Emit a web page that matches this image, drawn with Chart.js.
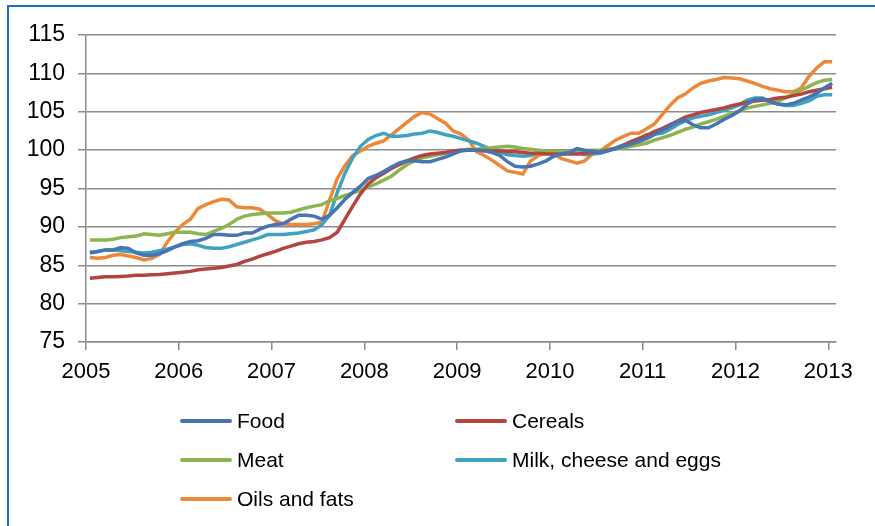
<!DOCTYPE html>
<html>
<head>
<meta charset="utf-8">
<script src="https://cdn.jsdelivr.net/npm/chart.js@4/dist/chart.umd.min.js"></script>
<style>
  html, body { margin: 0; padding: 0; background: #fff; }
  #wrap { position: relative; width: 875px; height: 526px; overflow: hidden; background: #fff; }
  #frame { position: absolute; left: 7px; top: 5px; width: 900px; height: 600px;
           border-top: 2px solid #1C6EBE; border-left: 2px solid #1C6EBE; }
  #c { position: absolute; left: 0; top: 0; }
  #legend { position: absolute; left: 0; top: 0; width: 875px; height: 526px; pointer-events: none;
            font-family: "Liberation Sans", Arial, sans-serif; font-size: 21px; color: #000; }
  .item { position: absolute; height: 24px; display: flex; align-items: center; white-space: nowrap; }
  .swatch { width: 52px; height: 4px; border-radius: 2px; margin-right: 5px; }
</style>
</head>
<body>
<div id="wrap">
  <div id="frame"></div>
  <canvas id="c" width="875" height="526"></canvas>
  <div id="legend"></div>
</div>
<script>
// ---- Data (monthly index, Jan 2005 .. Jan 2013; 2010 = 100) ----
const yearLabels = ['2005','2006','2007','2008','2009','2010','2011','2012','2013'];
const seriesNames = ['Food','Cereals','Meat','Milk, cheese and eggs','Oils and fats'];

const food = [
  86.6, 86.8, 87.0, 87.0, 87.3, 87.2, 86.6, 86.3, 86.3, 86.5, 86.9, 87.4,
  87.8, 88.1, 88.2, 88.5, 89.0, 89.0, 88.9, 88.9, 89.2, 89.2, 89.7, 90.1,
  90.3, 90.4, 91.0, 91.5, 91.5, 91.4, 91.0, 91.5, 92.5, 93.6, 94.5, 95.3,
  96.3, 96.7, 97.2, 97.8, 98.3, 98.6, 98.6, 98.5, 98.5, 98.8, 99.1, 99.5,
  99.9, 100.0, 100.0, 99.9, 99.7, 99.3, 98.5, 97.9, 97.8, 97.9, 98.2, 98.6,
  99.2, 99.5, 99.7, 100.2, 100.0, 99.9, 99.7, 99.9, 100.2, 100.5, 100.8, 101.1,
  101.5, 102.0, 102.6, 103.1, 103.7, 103.9, 103.3, 102.9, 102.9, 103.4, 104.0, 104.5,
  105.1, 106.0, 106.6, 106.7, 106.3, 106.0, 105.9, 106.1, 106.5, 106.9, 107.4, 108.1,
  108.7
];
const cereals = [
  83.3, 83.4, 83.5, 83.5, 83.55, 83.6, 83.7, 83.7, 83.75, 83.8, 83.9, 84.0,
  84.1, 84.2, 84.4, 84.5, 84.6, 84.7, 84.9, 85.1, 85.5, 85.8, 86.2, 86.5,
  86.8, 87.2, 87.5, 87.8, 88.0, 88.1, 88.3, 88.6, 89.3, 91.0, 92.7, 94.3,
  95.6, 96.4, 97.0, 97.6, 98.1, 98.6, 99.0, 99.3, 99.5, 99.6, 99.7, 99.9,
  100.0, 100.0, 100.0, 100.0, 99.9, 99.9, 99.8, 99.8, 99.7, 99.6, 99.6, 99.5,
  99.5, 99.5, 99.5, 99.5, 99.6, 99.7, 99.8, 100.0, 100.2, 100.6, 101.1, 101.5,
  101.9, 102.4, 102.8, 103.3, 103.8, 104.3, 104.6, 104.9, 105.1, 105.3, 105.5, 105.8,
  106.0, 106.2, 106.4, 106.5, 106.6, 106.8, 106.9, 107.1, 107.3, 107.6, 107.8, 108.0,
  108.2
];
const meat = [
  88.3, 88.3, 88.3, 88.4, 88.6, 88.7, 88.8, 89.1, 89.0, 88.9, 89.1, 89.3,
  89.3, 89.3, 89.1, 89.0, 89.4, 89.8, 90.3, 91.0, 91.4, 91.6, 91.7, 91.8,
  91.8, 91.8, 91.9, 92.2, 92.5, 92.7, 92.9, 93.4, 93.7, 94.1, 94.4, 94.8,
  95.2, 95.6, 96.1, 96.6, 97.4, 98.1, 98.6, 99.0, 99.2, 99.4, 99.6, 99.9,
  100.0, 100.1, 100.1, 100.2, 100.3, 100.4, 100.5, 100.4, 100.2, 100.1, 100.0, 99.9,
  99.8, 99.8, 99.8, 99.8, 99.9, 100.0, 100.0, 100.1, 100.2, 100.3, 100.5, 100.7,
  100.9, 101.3, 101.6, 101.9, 102.3, 102.7, 103.0, 103.4, 103.7, 104.0, 104.4, 104.8,
  105.1, 105.5, 105.7, 105.9, 106.1, 106.4, 106.8, 107.3, 107.8, 108.3, 108.8, 109.1,
  109.2
];
const milk = [
  86.7, 86.8, 87.0, 87.0, 86.9, 86.8, 86.7, 86.6, 86.7, 86.9, 87.1, 87.4,
  87.7, 87.8, 87.6, 87.3, 87.2, 87.2, 87.4, 87.7, 88.0, 88.3, 88.6, 89.0,
  89.0, 89.0, 89.1, 89.2, 89.4, 89.6, 90.3, 91.5, 94.5, 97.0, 99.0, 100.5,
  101.4, 101.9, 102.2, 101.8, 101.8, 101.9, 102.1, 102.2, 102.5, 102.3, 102.0, 101.8,
  101.5, 101.2, 100.9, 100.5, 100.0, 99.7, 99.4, 99.3, 99.2, 99.3, 99.6, 99.7,
  99.8, 99.8, 99.6, 99.6, 99.4, 99.5, 99.6, 99.9, 100.3, 100.7, 101.1, 101.5,
  102.0, 102.1, 102.2, 102.7, 103.3, 103.8, 104.2, 104.4, 104.6, 104.9, 105.2, 105.5,
  105.9, 106.5, 106.8, 106.8, 106.3, 106.0, 105.8, 105.8, 106.1, 106.4, 107.0, 107.2,
  107.2
];
const oils = [
  86.0, 85.9, 86.0, 86.3, 86.4, 86.2, 86.0, 85.7, 85.9, 86.4, 88.0, 89.3,
  90.3, 91.0, 92.4, 92.9, 93.3, 93.6, 93.5, 92.6, 92.5, 92.5, 92.3, 91.6,
  90.8, 90.4, 90.3, 90.3, 90.3, 90.4, 90.6, 93.5, 96.3, 98.0, 99.3, 99.9,
  100.5, 100.9, 101.2, 102.0, 102.8, 103.6, 104.4, 104.9, 104.7, 104.1, 103.5, 102.5,
  102.1, 101.3, 99.8, 99.3, 98.7, 98.0, 97.3, 97.1, 96.9, 98.6, 99.3, 99.6,
  99.5, 98.9, 98.6, 98.3, 98.6, 99.5, 99.9, 100.6, 101.3, 101.8, 102.2, 102.2,
  102.8, 103.4, 104.6, 105.8, 106.8, 107.3, 108.1, 108.7, 109.0, 109.2, 109.45, 109.4,
  109.3, 109.0, 108.7, 108.3, 108.0, 107.8, 107.6, 107.6, 108.1, 109.6, 110.7, 111.5,
  111.5
];

const seriesValues = [food, cereals, meat, milk, oils];
const seriesColors = ['#4674B4', '#B4443F', '#8DB54F', '#3FA2BF', '#EC8838'];

const toPoints = arr => arr.map((v, i) => ({ x: i, y: v }));

const gridColor = '#8C8C8C';
const tickFont = { family: '"Liberation Sans", Arial, sans-serif', size: 22 };

const chart = new Chart(document.getElementById('c'), {
  type: 'line',
  data: {
    datasets: seriesNames.map((name, k) => ({
      label: name,
      data: toPoints(seriesValues[k]),
      borderColor: seriesColors[k],
      backgroundColor: seriesColors[k],
      borderWidth: 3.5,
      pointRadius: 0,
      tension: 0,
      fill: false
    }))
  },
  options: {
    responsive: false,
    animation: false,
    devicePixelRatio: 1,
    layout: { padding: { left: 0, right: 39, top: 35, bottom: 144 } },
    plugins: { legend: { display: false }, tooltip: { enabled: false } },
    scales: {
      x: {
        type: 'linear',
        min: -0.5,
        max: 96.5,
        afterBuildTicks: (scale) => {
          scale.ticks = yearLabels.map((_, k) => ({ value: -0.5 + 12 * k }));
        },
        afterFit: (scale) => { scale.height = 40; },
        ticks: {
          autoSkip: false, maxRotation: 0, minRotation: 0,
          color: '#000', font: tickFont, padding: 9,
          callback: (v) => yearLabels[Math.round((v + 0.5) / 12)]
        },
        grid: { drawOnChartArea: false, drawTicks: true, tickLength: 8, color: gridColor, lineWidth: 1.5 },
        border: { display: true, color: gridColor, width: 1.5 }
      },
      y: {
        min: 75,
        max: 115,
        afterFit: (scale) => { scale.width = 86; },
        ticks: { stepSize: 5, color: '#000', font: { family: '"Liberation Sans", Arial, sans-serif', size: 23 }, padding: 13 },
        grid: { drawOnChartArea: true, drawTicks: true, tickLength: 8, color: gridColor, lineWidth: 1.5 },
        border: { display: true, color: gridColor, width: 1.5 }
      }
    }
  }
});

// HTML legend (two columns, three rows) built from the datasets
const legend = document.getElementById('legend');
const legendPos = [[180, 421], [455, 421], [180, 460], [455, 460], [180, 499]];
chart.data.datasets.forEach((ds, k) => {
  const item = document.createElement('div');
  item.className = 'item';
  item.style.left = legendPos[k][0] + 'px';
  item.style.top = (legendPos[k][1] - 12) + 'px';
  const sw = document.createElement('span');
  sw.className = 'swatch';
  sw.style.background = ds.borderColor;
  const tx = document.createElement('span');
  tx.textContent = ds.label;
  item.appendChild(sw);
  item.appendChild(tx);
  legend.appendChild(item);
});
</script>
</body>
</html>
